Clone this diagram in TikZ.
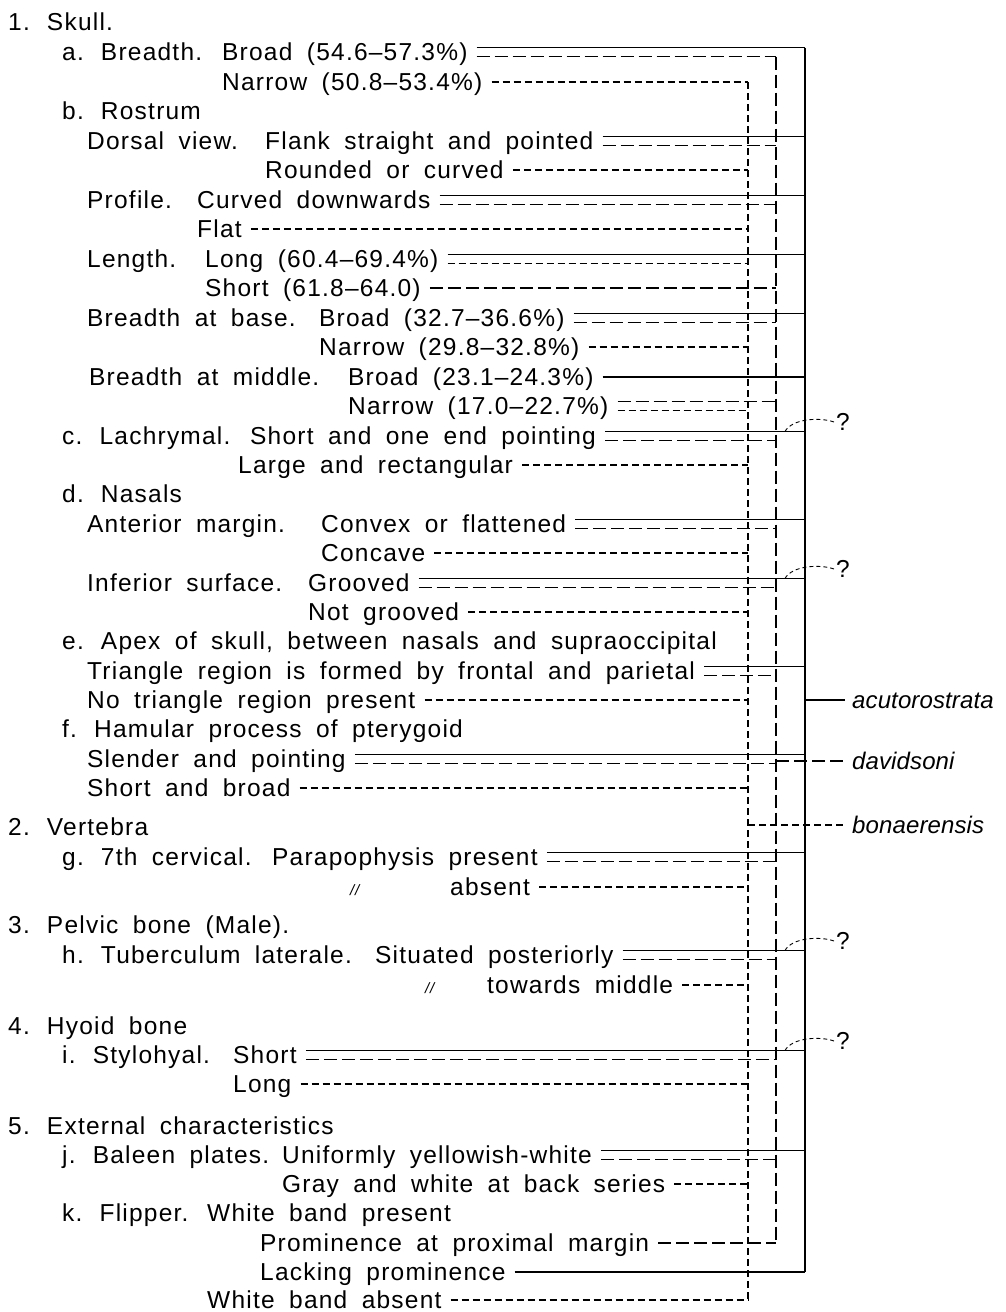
\documentclass[tikz,border=0pt]{standalone}
\usepackage{fontspec}
\setmainfont{Liberation Sans}[LetterSpace=5,WordSpace=1.8]
\begin{document}
\begin{tikzpicture}[x=1pt,y=-1pt,
    every node/.append style={inner sep=0pt,anchor=west,text height=17pt,text depth=0pt,
      font=\fontsize{24.5}{29}\selectfont},
    lineA/.style={line width=1.6pt},
    lineD/.style={line width=1.5pt,dash pattern=on 13pt off 5pt},
    lineB/.style={line width=1.4pt,dash pattern=on 7pt off 4pt},
    qline/.style={line width=0.9pt,dash pattern=on 4pt off 3pt},
    ditto/.style={font=\fontsize{15}{15}\selectfont\itshape,text height=10pt},
    species/.style={font=\fontsize{24}{29}\selectfont\itshape\addfontfeature{LetterSpace=0.5}}]
  \useasboundingbox (0,0) rectangle (1006,1312);

  % 1. Skull
  \node (Skull) at (8,22) {1. Skull.};
  \node (Breadth) at (62,52) {a. Breadth.};
  \node (BroadSk) at (222,52) {Broad (54.6–57.3\%)};
  \node (NarrowSk) at (222,82) {Narrow (50.8–53.4\%)};
  \node (Rostrum) at (62,111) {b. Rostrum};
  \node (Dorsal) at (87,141) {Dorsal view.};
  \node (Flank) at (265,141) {Flank straight and pointed};
  \node (Rounded) at (265,170) {Rounded or curved};
  \node (Profile) at (87,200) {Profile.};
  \node (Curved) at (197,200) {Curved downwards};
  \node (Flat) at (197,229) {Flat};
  \node (Length) at (87,259) {Length.};
  \node (LongRo) at (205,259) {Long (60.4–69.4\%)};
  \node (ShortRo) at (205,288) {Short (61.8–64.0)};
  \node (BaseBr) at (87,318) {Breadth at base.};
  \node (BroadBase) at (319,318) {Broad (32.7–36.6\%)};
  \node (NarrowBase) at (319,347) {Narrow (29.8–32.8\%)};
  \node (MidBr) at (89,377) {Breadth at middle.};
  \node (BroadMid) at (348,377) {Broad (23.1–24.3\%)};
  \node (NarrowMid) at (348,406) {Narrow (17.0–22.7\%)};
  \node (Lachrymal) at (62,436) {c. Lachrymal.};
  \node (ShortLa) at (250,436) {Short and one end pointing};
  \node (LargeLa) at (238,465) {Large and rectangular};
  \node (Nasals) at (62,494) {d. Nasals};
  \node (Anterior) at (87,524) {Anterior margin.};
  \node (Convex) at (321,524) {Convex or flattened};
  \node (Concave) at (321,553) {Concave};
  \node (Inferior) at (87,583) {Inferior surface.};
  \node (Grooved) at (308,583) {Grooved};
  \node (NotGrooved) at (308,612) {Not grooved};
  \node (Apex) at (62,641) {e. Apex of skull, between nasals and supraoccipital};
  \node (Triangle) at (87,671) {Triangle region is formed by frontal and parietal};
  \node (NoTriangle) at (87,700) {No triangle region present};
  \node (Hamular) at (62,729) {f. Hamular process of pterygoid};
  \node (Slender) at (87,759) {Slender and pointing};
  \node (ShortBroad) at (87,788) {Short and broad};

  % 2.-5.
  \node (Vertebra) at (8,827) {2. Vertebra};
  \node (Cervical) at (62,857) {g. 7th cervical.};
  \node (Parapo) at (272,857) {Parapophysis present};
  \node[ditto] (DittoA) at (350,890) {//};
  \node (Absent) at (450,887) {absent};
  \node (Pelvic) at (8,925) {3. Pelvic bone (Male).};
  \node (Tuberc) at (62,955) {h. Tuberculum laterale.};
  \node (Situated) at (375,955) {Situated posteriorly};
  \node[ditto] (DittoB) at (425,988) {//};
  \node (Towards) at (487,985) {towards middle};
  \node (Hyoid) at (8,1026) {4. Hyoid bone};
  \node (Stylo) at (62,1055) {i. Stylohyal.};
  \node (ShortSt) at (233,1055) {Short};
  \node (LongSt) at (233,1084) {Long};
  \node (External) at (8,1126) {5. External characteristics};
  \node (Baleen) at (62,1155) {j. Baleen plates.};
  \node (Uniform) at (282,1155) {Uniformly yellowish-white};
  \node (Gray) at (282,1184) {Gray and white at back series};
  \node (Flipper) at (62,1213) {k. Flipper.};
  \node (WhitePres) at (207,1213) {White band present};
  \node (Promin) at (260,1243) {Prominence at proximal margin};
  \node (Lacking) at (260,1272) {Lacking prominence};
  \node (WhiteAbs) at (207,1300) {White band absent};

  % species
  \node[species] (Acuto) at (852,700) {acutorostrata};
  \node[species] (Davids) at (852,761) {davidsoni};
  \node[species] (Bonaer) at (852,825) {bonaerensis};

  \coordinate (Atop) at (805,47.5);
  \coordinate (Dtop) at (776,56.5);
  \coordinate (Btop) at (748,82);
  \coordinate (Qx) at (785,0);

  % trunks
  \draw[lineA] (Atop) -- (Lacking.east -| Atop);
  \draw[lineD] (Dtop) -- (Promin.east -| Dtop);
  \draw[lineB] (Btop) -- (WhiteAbs.east -| Btop);

  % double lines: upper to acutorostrata, lower to davidsoni
  \foreach \n in {BroadSk,Flank,Curved,BroadBase,ShortLa,Convex,Grooved,Triangle,Slender,Parapo,Situated,ShortSt,Uniform}{
    \draw[lineA] ([shift={(9pt,4.5pt)}]\n.east) -- ([yshift=4.5pt]\n.east -| Atop);
    \draw[lineD] ([shift={(9pt,-4.5pt)}]\n.east) -- ([yshift=-4.5pt]\n.east -| Dtop);
  }
  % single lines
  \foreach \n in {NarrowSk,Rounded,Flat,NarrowBase,LargeLa,Concave,NotGrooved,NoTriangle,ShortBroad,Absent,Towards,LongSt,Gray,WhiteAbs}
    \draw[lineB] ([xshift=9pt]\n.east) -- (\n.east -| Btop);
  \foreach \n in {ShortRo,Promin}
    \draw[lineD] ([xshift=9pt]\n.east) -- (\n.east -| Dtop);
  \foreach \n in {BroadMid,Lacking}
    \draw[lineA] ([xshift=9pt]\n.east) -- (\n.east -| Atop);
  % mixed pairs
  \draw[lineA] ([shift={(9pt,4.5pt)}]LongRo.east) -- ([yshift=4.5pt]LongRo.east -| Atop);
  \draw[lineB] ([shift={(9pt,-4.5pt)}]LongRo.east) -- ([yshift=-4.5pt]LongRo.east -| Btop);
  \draw[lineD] ([shift={(9pt,4.5pt)}]NarrowMid.east) -- ([yshift=4.5pt]NarrowMid.east -| Dtop);
  \draw[lineB] ([shift={(9pt,-4.5pt)}]NarrowMid.east) -- ([yshift=-4.5pt]NarrowMid.east -| Btop);

  % to the species
  \draw[lineA] (Acuto.west -| Atop) -- ([xshift=-7pt]Acuto.west);
  \draw[lineD] (Davids.west -| Dtop) -- ([xshift=-7pt]Davids.west);
  \draw[lineB] (Bonaer.west -| Btop) -- ([xshift=-7pt]Bonaer.west);

  % doubtful marks
  \foreach \n/\q in {ShortLa/QLa,Grooved/QGr,Situated/QSi,ShortSt/QSt}{
    \node (\q) at ([yshift=14pt]\n.east -| 836,0) {?};
    \draw[qline] ([yshift=4.5pt]\n.east -| Qx) .. controls +(7,-13) and +(-14,-5) .. ([xshift=-2pt]\q.west);
  }
\end{tikzpicture}
\end{document}
